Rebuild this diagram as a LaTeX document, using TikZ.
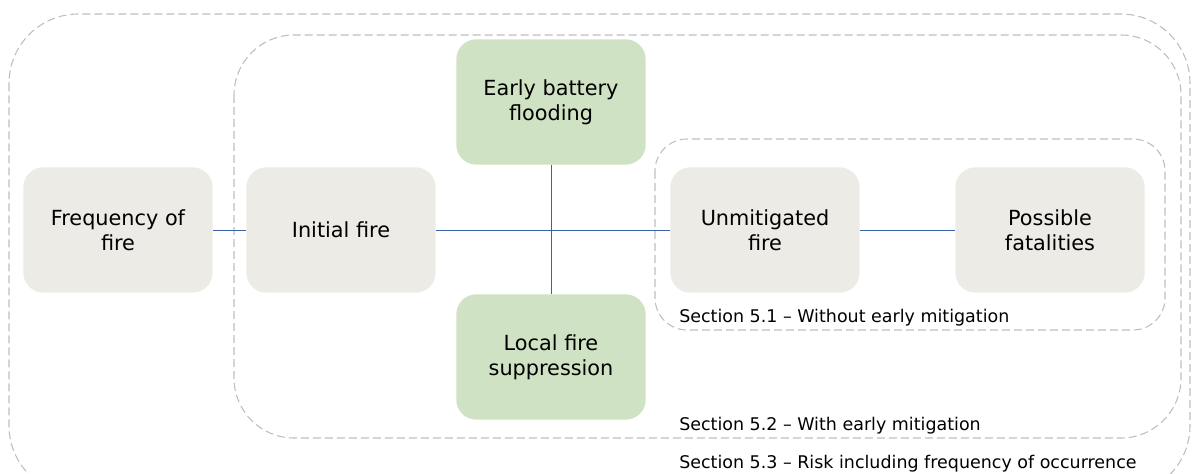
\documentclass[tikz,border=0pt]{standalone}
\usepackage{fontspec}
\setmainfont{DejaVu Sans}
\usetikzlibrary{positioning}

\definecolor{boxgray}{HTML}{EDEBE6}
\definecolor{boxgreen}{HTML}{CFE2C3}
\definecolor{linkblue}{HTML}{3B62A6}
\definecolor{dashgray}{HTML}{BEBEBE}

\tikzset{
  stagebox/.style={rectangle, rounded corners=15pt, fill=boxgray, minimum width=142pt, minimum height=94pt, align=center, font=\fontsize{15.6}{19}\selectfont, inner sep=2pt},
  mitigbox/.style={stagebox, fill=boxgreen},
  link/.style={draw=linkblue, line width=0.6pt},
  sectionframe/.style={draw=dashgray, dashed, dash pattern=on 6pt off 3pt, line width=0.8pt},
  sectionlabel/.style={anchor=west, inner sep=0pt, font=\fontsize{13.1}{15}\selectfont}
}

\begin{document}
\begin{tikzpicture}[x=0.75pt, y=-0.75pt]
    \useasboundingbox (0,0) rectangle (1195,474);
    \clip (0,0) rectangle (1195,474);

    % dashed section frames
    \draw[sectionframe, rounded corners=52pt] (9,14) rectangle (1190,495);
    \draw[sectionframe, rounded corners=45pt] (234,35) rectangle (1181,438);
    \draw[sectionframe, rounded corners=24pt] (655,139) rectangle (1165,330);

    % event boxes
    \node[stagebox] (freq) at (118,230) {Frequency of\\fire};
    \node[stagebox] (init) at (341,230) {Initial fire};
    \node[mitigbox] (flood) at (551,102) {Early battery\\flooding};
    \node[mitigbox] (suppr) at (551,357) {Local fire\\suppression};
    \node[stagebox] (unmit) at (765,230) {Unmitigated\\fire};
    \node[stagebox] (fatal) at (1050,230) {Possible\\fatalities};

    \draw[link] (freq) -- (init);
    \draw[link] (init) -- (unmit);
    \draw[link] (flood) -- (suppr);
    \draw[link] (unmit) -- (fatal);

    \node[sectionlabel] (sec51) at (679,318) {Section 5.1 – Without early mitigation};
    \node[sectionlabel] (sec52) at (679,426) {Section 5.2 – With early mitigation};
    \node[sectionlabel] (sec53) at (679,464) {Section 5.3 – Risk including frequency of occurrence};
\end{tikzpicture}
\end{document}
